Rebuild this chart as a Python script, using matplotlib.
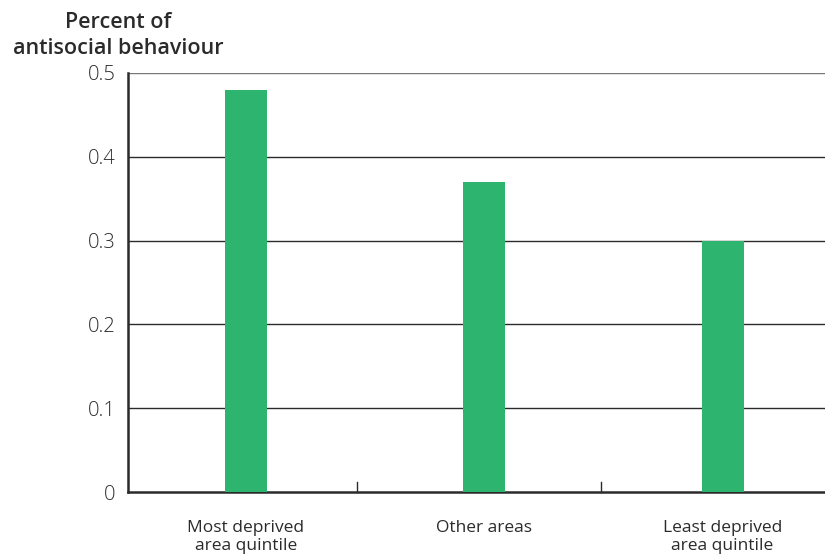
import numpy as np
import matplotlib.pyplot as plt

plt.rcParams['font.family'] = ['Open Sans', 'DejaVu Sans']

categories = ["Most deprived\narea quintile", "Other areas", "Least deprived\narea quintile"]
values = [0.48, 0.37, 0.30]
yticks = [0, 0.1, 0.2, 0.3, 0.4, 0.5]
ytick_labels = ["0", "0.1", "0.2", "0.3", "0.4", "0.5"]

green = "#2db56f"
dark = "#2b2b2b"

fig = plt.figure(figsize=(8.25, 5.56), dpi=100)
ax = fig.add_axes([128 / 825, 1 - 492 / 556, (825 - 128) / 825, (492 - 73) / 556])

x = np.arange(len(categories))
ax.bar(x, values, width=0.176, color=green, zorder=3)

ax.set_ylim(0, 0.5)
ax.set_xlim(-0.495, 2.43)
ax.set_yticks(yticks)
ax.set_yticklabels(ytick_labels, fontsize=14.5, color=dark, fontweight='light')
ax.tick_params(axis='y', length=0, pad=9)

ax.set_xticks(x)
ax.set_xticklabels(categories, fontsize=12.5, color=dark, linespacing=1.15)
ax.tick_params(axis='x', length=0, pad=20)
# category separators
for s in [0.465, 1.49]:
    ax.plot([s, s], [0, 0.012], color=dark, lw=1, zorder=4, clip_on=False)

for y in yticks[1:]:
    ax.axhline(y, color=dark if y < 0.5 else "#777777", lw=1, zorder=1)

for side in ['top', 'right']:
    ax.spines[side].set_visible(False)
ax.spines['left'].set_color(dark)
ax.spines['left'].set_linewidth(1.8)
ax.spines['bottom'].set_color(dark)
ax.spines['bottom'].set_linewidth(1.8)

fig.text(118 / 825, 1 - 22 / 556, "Percent of", ha='center', va='center', fontsize=15.5, fontweight='semibold', color=dark)
fig.text(118 / 825, 1 - 48 / 556, "antisocial behaviour", ha='center', va='center', fontsize=15.5, fontweight='semibold', color=dark)

fig.savefig("out.png", dpi=100)
